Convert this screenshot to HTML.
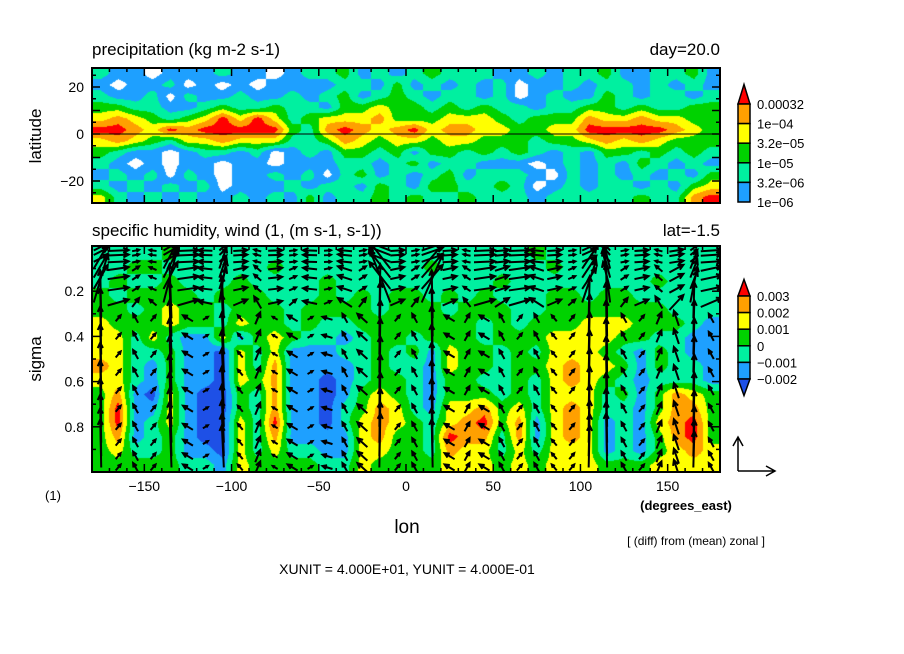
<!DOCTYPE html>
<html><head><meta charset="utf-8"><style>
body{margin:0;background:#fff;width:904px;height:654px;overflow:hidden;position:relative;font-family:"Liberation Sans",sans-serif}
canvas{position:absolute}
svg{position:absolute;left:0;top:0}
</style></head><body>
<canvas id="c1" width="628" height="135" style="left:92px;top:68px"></canvas>
<canvas id="c2" width="628" height="226" style="left:92px;top:246px"></canvas>
<svg id="s" width="904" height="654" font-family="Liberation Sans, sans-serif">
<defs><clipPath id="clipB"><rect x="92" y="246" width="628" height="226"/></clipPath></defs>
<text x="92" y="55" font-size="17">precipitation (kg m-2 s-1)</text>
<text x="720" y="55" font-size="17" text-anchor="end">day=20.0</text>
<text x="92" y="236" font-size="17">specific humidity, wind (1, (m s-1, s-1))</text>
<text x="720" y="236" font-size="17" text-anchor="end">lat=-1.5</text>
<text transform="translate(41,136) rotate(-90)" font-size="17" text-anchor="middle">latitude</text>
<text transform="translate(41,359) rotate(-90)" font-size="17" text-anchor="middle">sigma</text>
<text x="407" y="533" font-size="19" text-anchor="middle">lon</text>
<text x="53" y="500" font-size="13" text-anchor="middle">(1)</text>
<text x="686" y="510" font-size="13" text-anchor="middle" font-weight="bold">(degrees_east)</text>
<text x="696" y="545" font-size="12" text-anchor="middle">[ (diff) from (mean) zonal ]</text>
<text x="407" y="574" font-size="14" text-anchor="middle">XUNIT = 4.000E+01, YUNIT = 4.000E-01</text>
<g id="ga" clip-path="url(#clipB)"></g>
<g id="g"></g>
</svg>
<script>
// ---- data ----
const lonTicks=[-150,-100,-50,0,50,100,150];
const latTicks=[20,0,-20];
const sigTicks=[0.2,0.4,0.6,0.8];
const precipLabels=["0.00032","1e-04","3.2e-05","1e-05","3.2e-06","1e-06"];
const qLabels=["0.003","0.002","0.001","0","\u22120.001","\u22120.002"];
const precipColors=["#ffffff","#1ea0ff","#00f0a0","#00d200","#ffff00","#ffa000","#ff0000"];
const qColors=["#1e50e6","#1ea0ff","#00f0a0","#00d200","#ffff00","#ffa000","#ff0000"];
// precipitation level grid: rows lat 26..-26, cols lon -175..175
const precipGrid=[
"211011121101223121232221121223112231",
"101120101011112213121212011212212121",
"211202112112123123212212012113212212",
"332211232232213343323232212233232233",
"454323464642344453334443233354454433",
"665465666663256545645544334466666543",
"454324454442235434434433323345454333",
"321101221201213323133232321213323232",
"210101101101112212312211101212132121",
"121202101121202312123122210212121213",
"212121201112122132133223201212212134",
"421212112121312232322322212222232256"];
// humidity anomaly level grid: rows sigma 0.03..0.97
const qGrid=[
"222232222222222222222222232222222222",
"223322222232222222232222223222222222",
"232232223222232222222223222222223222",
"323333233322232323323232223323322222",
"332343323332333323332333223333333222",
"433343324332322333333323233344433321",
"442421141343221233233323334444332211",
"442231104241112232314332324443213211",
"542131104251111232214332334544313221",
"442131104351101233213322324543212221",
"351041003251101343213332324442313543",
"361141003251102354214453424542213553",
"361241004261102454324563514541214563",
"351231004251111453326552514541213563",
"342231104242211443325442424441213454",
"333332214333322433334443434443334444"];
const arrowLons=[-175,-165,-155,-145,-135,-125,-115,-105,-95,-85,-75,-65,-55,-45,-35,-25,-15,-5,5,15,25,35,45,55,65,75,85,95,105,115,125,135,145,155,165,175];
const arrowSigmas=[0.02,0.04,0.07,0.1,0.14,0.19,0.25,0.32,0.4,0.48,0.56,0.64,0.72,0.8,0.87,0.93,0.98];
const updraft=[8,2,3,2,9,2,1,7,2,4,1,2,1,1,3,3,9,2,3,8,2,3,2,3,2,3,2,2,7,9,3,2,4,5,6,3];
const uUpper=[2,3,1,-1,2,3,-2,1,2,-1,2,1,-2,1,-2,1,-3,2,1,3,2,-1,3,2,3,-2,2,1,2,-1,1,2,-1,2,1,3];
const uLower=[-1,1,-1,1,-2,-2,1,-2,-1,1,-1,-2,1,-2,-1,-2,1,1,-1,-1,-2,1,-2,-1,1,-1,-1,1,1,-1,-1,1,1,-1,1,-1];

// ---- axes ----
const X0=92,X1=720;
const xOf=l=>X0+(l+180)/360*(X1-X0);
const latY=v=>134-v*2.35;
const sigY=s=>246+s*226;
const NS="http://www.w3.org/2000/svg";
const g=document.getElementById('g');
const ga=document.getElementById('ga');
function mk(t,a,parent){const e=document.createElementNS(NS,t);for(const k in a)e.setAttribute(k,a[k]);(parent||g).appendChild(e);return e;}

function drawField(id,grid,colors){
  const cv=document.getElementById(id),ctx=cv.getContext('2d');
  const W=cv.width,H=cv.height,img=ctx.createImageData(W,H);
  const R=grid.length,C=grid[0].length;
  const val=(r,c)=>+grid[Math.max(0,Math.min(R-1,r))][Math.max(0,Math.min(C-1,c))];
  const rgb=colors.map(s=>[parseInt(s.substr(1,2),16),parseInt(s.substr(3,2),16),parseInt(s.substr(5,2),16)]);
  for(let y=0;y<H;y++){const fr=(y+0.5)/H*R-0.5,r0=Math.floor(fr),tr=fr-r0;
    for(let x=0;x<W;x++){const fc=(x+0.5)/W*C-0.5,c0=Math.floor(fc),tc=fc-c0;
      const v=(val(r0,c0)*(1-tc)+val(r0,c0+1)*tc)*(1-tr)+(val(r0+1,c0)*(1-tc)+val(r0+1,c0+1)*tc)*tr;
      const k=Math.max(0,Math.min(6,Math.round(v))),p=(y*W+x)*4;
      img.data[p]=rgb[k][0];img.data[p+1]=rgb[k][1];img.data[p+2]=rgb[k][2];img.data[p+3]=255;}}
  ctx.putImageData(img,0,0);
}
drawField('c1',precipGrid,precipColors);
drawField('c2',qGrid,qColors);

let e=mk('line',{x1:X0,x2:X1,y1:latY(0),y2:latY(0),stroke:'#000','stroke-width':1});


function arrow(x,y,dx,dy){
  const L=Math.hypot(dx,dy);if(L<2)return;
  const x2=x+dx,y2=y+dy,a=Math.atan2(dy,dx),hl=Math.min(6,L*0.45);
  const p=`M${x},${y}L${x2},${y2}M${x2-hl*Math.cos(a-0.45)},${y2-hl*Math.sin(a-0.45)}L${x2},${y2}L${x2-hl*Math.cos(a+0.45)},${y2-hl*Math.sin(a+0.45)}`;
  const el=mk('path',{d:p,stroke:'#000','stroke-width':2,fill:'none'},ga);
  
  
}
arrowLons.forEach((lon,i)=>{
  arrowSigmas.forEach((s)=>{
    const upper=s<0.3;
    const u=upper?uUpper[i]:uLower[i];
    const wf=s<0.1?0.15:(s<0.25?0.5:1);
    const strong=updraft[i]>=6;
    const w=updraft[i]*wf*(strong?6:3);
    const dx=u*(upper?7:5)*(strong&&!upper?0.2:1);
    if(strong) arrow(xOf(lon)-dx/2,sigY(s),dx,-w);
    else arrow(xOf(lon)-dx/2,sigY(s)+w/2,dx,-w);
  });
});

[[68,203,'top-plot-frame'],[246,472,'bottom-plot-frame']].forEach(([a,b,n])=>{
  const r=mk('rect',{x:X0,y:a,width:X1-X0,height:b-a,fill:'none',stroke:'#000','stroke-width':2});
  
});
for(let l=-180;l<=180;l+=10){const x=xOf(l),maj=l%50===0,len=maj?8:4;
  [[68,1],[203,-1],[246,1],[472,-1]].forEach(([y,d])=>mk('line',{x1:x,x2:x,y1:y,y2:y+d*len,stroke:'#000','stroke-width':1.5}));}
lonTicks.forEach(l=>{const t=mk('text',{x:xOf(l),y:491,'font-size':14,'text-anchor':'middle'});t.textContent=String(l).replace('-','\u2212');
  });
for(let v=-25;v<=25;v+=5){const y=latY(v),len=v%10===0?8:4;
  mk('line',{x1:X0,x2:X0+len,y1:y,y2:y,stroke:'#000','stroke-width':1.5});mk('line',{x1:X1,x2:X1-len,y1:y,y2:y,stroke:'#000','stroke-width':1.5});}
latTicks.forEach(v=>{const t=mk('text',{x:84,y:latY(v)+5,'font-size':14,'text-anchor':'end'});t.textContent=String(v).replace('-','\u2212');
  });
for(let s=0.1;s<1;s+=0.1){const y=sigY(s),len=Math.round(s*10)%2===0?8:4;
  mk('line',{x1:X0,x2:X0+len,y1:y,y2:y,stroke:'#000','stroke-width':1.5});mk('line',{x1:X1,x2:X1-len,y1:y,y2:y,stroke:'#000','stroke-width':1.5});}
sigTicks.forEach(v=>{const t=mk('text',{x:84,y:sigY(v)+5,'font-size':14,'text-anchor':'end'});t.textContent=String(v);
  });

function cbar(colors,labels,top,seg,hasBottom,name){
  const bx=738,bw=12,n=labels.length-1,bot=top+seg*n;
  const tri=mk('path',{d:`M${bx},${top}L${bx+bw/2},${top-seg}L${bx+bw},${top}Z`,fill:colors[6],stroke:'#000','stroke-width':1.5});
  
  for(let k=0;k<n;k++){const r=mk('rect',{x:bx,y:top+k*seg,width:bw,height:seg,fill:colors[5-k],stroke:'#000','stroke-width':1.5});
    }
  if(hasBottom){const b=mk('path',{d:`M${bx},${bot}L${bx+bw/2},${bot+seg}L${bx+bw},${bot}Z`,fill:colors[0],stroke:'#000','stroke-width':1.5});
    }
  labels.forEach((L,k)=>{const t=mk('text',{x:757,y:top+k*seg+5,'font-size':13});t.textContent=L.replace(/-(?=\d)/g,'\u2212');
    });
}
cbar(precipColors,precipLabels,104,19.6,false,'precip-colorbar');
cbar(qColors,qLabels,296,16.6,true,'humidity-colorbar');

const rv=mk('path',{d:'M738,471L738,437M733,446L738,437L743,446M738,471L775,471M766,466L775,471L766,476',stroke:'#000','stroke-width':1.5,fill:'none'});

</script>
</body></html>
